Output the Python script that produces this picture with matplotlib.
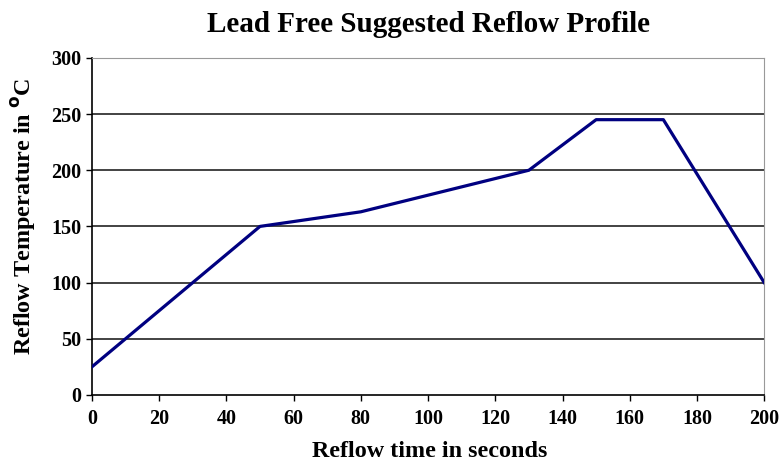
import numpy as np
import matplotlib.pyplot as plt

# reflow profile
time_s = [0, 50, 80, 130, 150, 170, 200]
temp_c = [25, 150, 163, 200, 245, 245, 100]
x_ticks = [0, 20, 40, 60, 80, 100, 120, 140, 160, 180, 200]
y_ticks = [0, 50, 100, 150, 200, 250, 300]

plt.rcParams['font.family'] = ['Liberation Serif', 'DejaVu Serif']

fig = plt.figure(figsize=(7.79, 4.63), dpi=100)
ax = fig.add_axes([0.118, 0.147, 0.863, 0.728])

for y in y_ticks[1:]:
    ax.axhline(y, color='#222222', lw=1.2, zorder=1)
ax.plot(time_s, temp_c, color='#000080', lw=2.3, zorder=3)

ax.set_xlim(0, 200)
ax.set_ylim(0, 300)
ax.set_xticks(x_ticks)
ax.set_yticks(y_ticks)
ax.tick_params(direction='out', length=4, width=1, labelsize=14.5)
ax.tick_params(axis='x', pad=6)
for lab in ax.get_xticklabels() + ax.get_yticklabels():
    lab.set_fontweight('bold')

for s in ['top', 'right']:
    ax.spines[s].set_color('#999999')
for s in ['left', 'bottom']:
    ax.spines[s].set_color('black')
    ax.spines[s].set_linewidth(1.2)

ax.set_xlabel('Reflow time in seconds', fontsize=17.4, fontweight='bold')
ax.set_ylabel('Reflow Temperature in $^{\\rm \\mathbf{o}}$C', fontsize=17.4, fontweight='bold')
ax.xaxis.set_label_coords(0.503, -0.137)
ax.yaxis.set_label_coords(-0.08, 0.53)
fig.text(0.55, 0.948, 'Lead Free Suggested Reflow Profile', ha='center', va='center',
         fontsize=21, fontweight='bold')

fig.savefig('out.png', dpi=100)
